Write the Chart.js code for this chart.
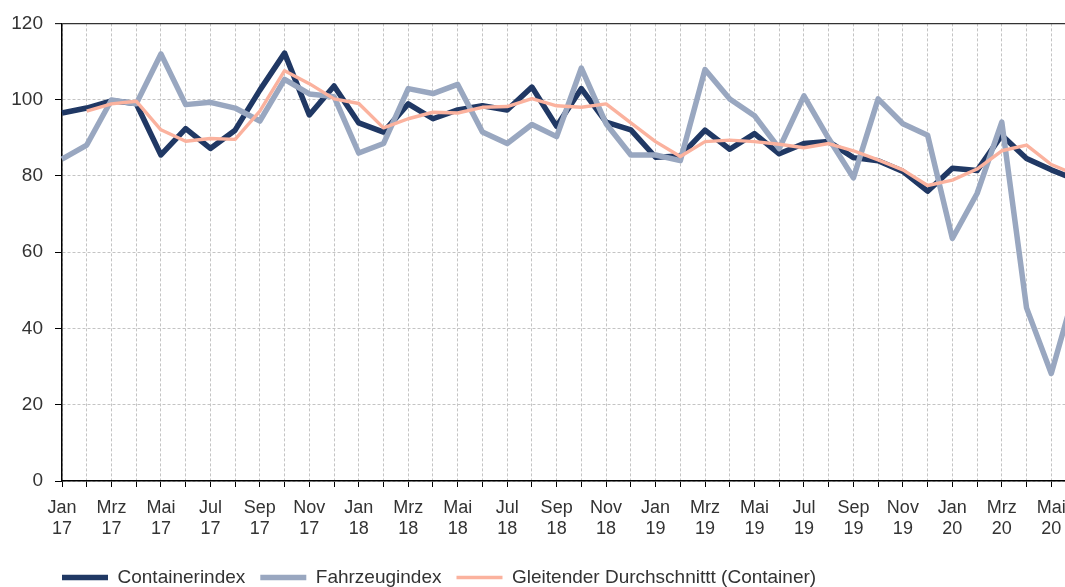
<!DOCTYPE html>
<html><head><meta charset="utf-8">
<script src="https://cdn.jsdelivr.net/npm/chart.js@4.4.1/dist/chart.umd.min.js"></script>
<style>
html,body{margin:0;padding:0;overflow:hidden;background:#fff;width:1065px;height:587px}
#wrap{position:relative;width:1090px;height:597px}
</style></head><body>
<div id="wrap"><canvas id="c" width="1090" height="597" style="width:1090px;height:597px"></canvas></div>
<script>
const categories = [
  'Jan 17','Feb 17','Mrz 17','Apr 17','Mai 17','Jun 17','Jul 17','Aug 17','Sep 17','Okt 17','Nov 17','Dez 17',
  'Jan 18','Feb 18','Mrz 18','Apr 18','Mai 18','Jun 18','Jul 18','Aug 18','Sep 18','Okt 18','Nov 18','Dez 18',
  'Jan 19','Feb 19','Mrz 19','Apr 19','Mai 19','Jun 19','Jul 19','Aug 19','Sep 19','Okt 19','Nov 19','Dez 19',
  'Jan 20','Feb 20','Mrz 20','Apr 20','Mai 20','Jun 20'
];
const containerIndex = [
  96.5, 97.8, 99.7, 99.0, 85.5, 92.4, 87.2, 92.0, 102.5, 112.2, 96.0, 103.6,
  93.9, 91.5, 98.9, 95.0, 97.3, 98.4, 97.3, 103.3, 93.0, 102.9, 94.1, 92.1,
  84.9, 85.2, 92.0, 87.0, 91.1, 85.8, 88.5, 89.0, 84.8, 84.0, 81.2, 76.0,
  82.0, 81.4, 90.7, 84.6, 81.6, 79.0
];
const fahrzeugIndex = [
  84.4, 88.1, 99.9, 98.9, 112.0, 98.7, 99.3, 97.8, 94.4, 105.3, 101.5, 100.8,
  86.0, 88.5, 102.9, 101.6, 104.0, 91.5, 88.5, 93.5, 90.3, 108.3, 93.7, 85.5,
  85.5, 84.0, 107.9, 100.2, 95.8, 87.2, 101.0, 89.8, 79.5, 100.2, 93.7, 90.7,
  63.6, 75.4, 94.1, 45.4, 28.2, 51.0
];
const movingAverage = [
  null, 97.0, 98.9, 99.6, 92.1, 89.1, 89.8, 89.6, 97.0, 107.6, 104.2, 100.2,
  99.0, 92.6, 95.0, 96.7, 96.5, 98.0, 98.2, 100.3, 98.4, 98.0, 98.9, 93.9,
  89.0, 85.1, 89.0, 89.4, 89.0, 88.3, 87.4, 88.5, 86.6, 84.2, 81.6, 77.5,
  78.9, 81.8, 86.6, 88.1, 83.0, 80.3
];
const seriesNames = ['Containerindex', 'Fahrzeugindex', 'Gleitender Durchschnittt (Container)'];
const yMin = 0, yMax = 120, yStep = 20;

const FONT = "'Liberation Sans', Arial, sans-serif";
const gridGray = '#c4c4c4';

// shift the legend so that it starts under the y axis, as in the reference
const legendShift = {
  id: 'legendShift',
  afterLayout(chart) {
    if (chart.legend) {
      chart.legend.left += 47;
      chart.legend.right += 47;
    }
  }
};

new Chart(document.getElementById('c'), {
  type: 'line',
  plugins: [legendShift],
  data: {
    labels: categories,
    datasets: [
      { label: seriesNames[0], data: containerIndex, borderColor: '#203864', backgroundColor: '#203864',
        borderWidth: 5.5, pointRadius: 0, tension: 0, borderJoinStyle: 'round', order: 2 },
      { label: seriesNames[1], data: fahrzeugIndex, borderColor: '#99a7c0', backgroundColor: '#99a7c0',
        borderWidth: 5.5, pointRadius: 0, tension: 0, borderJoinStyle: 'round', order: 1 },
      { label: seriesNames[2], data: movingAverage, borderColor: '#fbb29e', backgroundColor: '#fbb29e',
        borderWidth: 3.4, pointRadius: 0, tension: 0, borderJoinStyle: 'round', order: 0 }
    ]
  },
  options: {
    responsive: false,
    animation: false,
    layout: { autoPadding: false, padding: { left: 0, right: 14, top: 18, bottom: 0 } },
    plugins: {
      tooltip: { enabled: false },
      legend: {
        position: 'bottom',
        align: 'start',
        labels: {
          usePointStyle: true,
          pointStyle: 'line',
          pointStyleWidth: 46,
          padding: 15,
          color: '#333',
          font: { family: FONT, size: 19 },
          sort: (a, b) => a.datasetIndex - b.datasetIndex
        }
      }
    },
    scales: {
      x: {
        type: 'category',
        offset: false,
        afterFit: s => { s.height = 72; },
        grid: {
          color: gridGray, lineWidth: 1, drawTicks: true, tickLength: 6,
          tickColor: '#000', tickWidth: 1, tickBorderDash: []
        },
        border: { display: true, color: '#000', width: 1.5, dash: [3, 2] },
        ticks: {
          autoSkip: false, maxRotation: 0, minRotation: 0, padding: 11,
          color: '#333', font: { family: FONT, size: 18, lineHeight: 1.15 },
          callback: (v, i) => i % 2 === 0 ? categories[i].split(' ') : ''
        }
      },
      y: {
        min: yMin, max: yMax,
        afterFit: s => { s.width = 62; },
        grid: {
          color: c => (c.tick && c.tick.value === yMax) ? '#333' : gridGray,
          lineWidth: c => (c.tick && c.tick.value === yMax) ? 1.3 : 1,
          drawTicks: true, tickLength: 7, tickColor: '#000', tickWidth: 1, tickBorderDash: []
        },
        border: { display: true, color: '#000', width: 1.5,
          dash: c => (c.tick && c.tick.value === yMax) ? [] : [3, 2] },
        ticks: {
          stepSize: yStep, padding: 12, color: '#333',
          font: { family: FONT, size: 19 }
        }
      }
    }
  }
});
</script>
</body></html>
